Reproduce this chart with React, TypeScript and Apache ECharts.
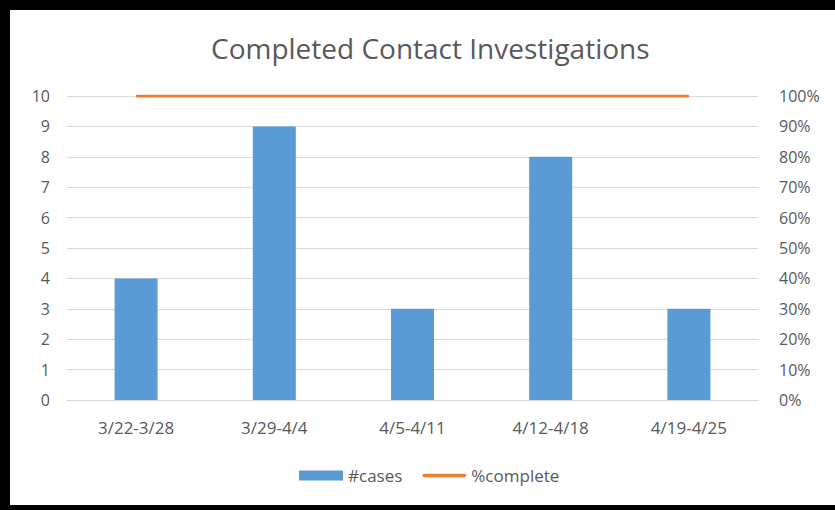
import React, { useEffect, useRef } from "react";
import * as echarts from "echarts";

const categories = ["3/22-3/28", "3/29-4/4", "4/5-4/11", "4/12-4/18", "4/19-4/25"];
const cases = [4, 9, 3, 8, 3];
const pctComplete = [100, 100, 100, 100, 100];

const FONT = "'Open Sans', sans-serif";
const GREY = "#595959";

export default function App() {
  const ref = useRef<HTMLDivElement>(null);
  useEffect(() => {
    if (!ref.current) return;
    const chart = echarts.init(ref.current, undefined, { renderer: "svg" });
    chart.setOption({
      animation: false,
      backgroundColor: "#ffffff",
      title: {
        text: "Completed Contact Investigations",
        left: 206,
        top: 29,
        textStyle: { fontFamily: FONT, fontSize: 28, fontWeight: "normal", color: GREY },
      },
      legend: {
        left: 294,
        top: 462,
        itemWidth: 44,
        itemHeight: 10,
        itemGap: 20,
        textStyle: { fontFamily: FONT, fontSize: 17, color: GREY },
        data: [
          { name: "#cases", icon: "rect" },
          { name: "%complete", icon: "path://M2,0 L46,0 A2,2 0 0 1 46,4 L2,4 A2,2 0 0 1 2,0 Z" },
        ],
      },
      grid: { left: 67, right: 77, top: 96, bottom: 110 },
      xAxis: {
        type: "category",
        data: categories,
        axisTick: { show: false },
        axisLine: { lineStyle: { color: "#d9d9d9", width: 1 } },
        axisLabel: { fontFamily: FONT, fontSize: 17, color: GREY, margin: 19 },
      },
      yAxis: [
        {
          type: "value",
          min: 0,
          max: 10,
          interval: 1,
          axisLabel: { fontFamily: FONT, fontSize: 16, color: GREY, margin: 17 },
          splitLine: { lineStyle: { color: "#d9d9d9", width: 1 } },
          axisLine: { show: false },
          axisTick: { show: false },
        },
        {
          type: "value",
          min: 0,
          max: 100,
          interval: 10,
          position: "right",
          axisLabel: { fontFamily: FONT, fontSize: 16, color: GREY, margin: 21, formatter: "{value}%" },
          splitLine: { show: false },
          axisLine: { show: false },
          axisTick: { show: false },
        },
      ],
      series: [
        {
          name: "#cases",
          type: "bar",
          data: cases,
          barWidth: 43,
          itemStyle: { color: "#5b9bd5" },
        },
        {
          name: "%complete",
          type: "line",
          yAxisIndex: 1,
          data: pctComplete,
          symbol: "none",
          lineStyle: { color: "#ed7d31", width: 3 },
          itemStyle: { color: "#ed7d31" },
        },
      ],
      graphic: [
        { type: "rect", shape: { x: 0, y: 0, width: 835, height: 10 }, style: { fill: "#000" } },
        { type: "rect", shape: { x: 0, y: 0, width: 10, height: 510 }, style: { fill: "#000" } },
        { type: "rect", shape: { x: 0, y: 505, width: 835, height: 5 }, style: { fill: "#000" } },
      ],
    });
    return () => chart.dispose();
  }, []);
  return (
    <div
      ref={ref}
      style={{ position: "fixed", left: 0, top: 0, width: 835, height: 510 }}
    />
  );
}
